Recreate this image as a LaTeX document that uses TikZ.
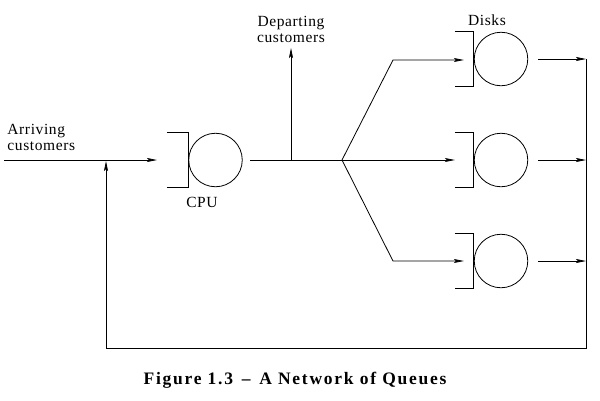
\documentclass[tikz,border=0pt]{standalone}
\usepackage{fontspec}
\setmainfont{Liberation Serif}
\newfontfamily\lblfont[LetterSpace=4]{Liberation Serif}
\newfontfamily\capfont[LetterSpace=10]{Liberation Serif}
\usetikzlibrary{arrows.meta}
\begin{document}
\begin{tikzpicture}[x=1pt,y=-1pt,
  line width=0.8pt,
  queue/.style={circle,draw,inner sep=0pt,minimum size=53.5pt},
  lbl/.style={font=\lblfont\fontsize{15.5}{16}\selectfont,align=center,inner sep=0pt},
  arr/.style={-{Stealth[length=10pt,width=4pt,inset=2pt]}},
  line join=miter]
\useasboundingbox (0,0) rectangle (600,400);
% queues
\node[queue] (cpu) at (215.5,160) {};
\node[queue] (d1) at (501,59) {};
\node[queue] (d2) at (501,160) {};
\node[queue] (d3) at (501,261) {};
% brackets
\draw ([xshift=-21pt]cpu.west |- cpu.north) -- (cpu.west |- cpu.north) -- (cpu.west |- cpu.south) -- ([xshift=-21pt]cpu.west |- cpu.south);
\foreach \d in {d1,d2,d3}{
  \draw ([xshift=-19pt]\d.west |- \d.north) -- (\d.west |- \d.north) -- (\d.west |- \d.south) -- ([xshift=-19pt]\d.west |- \d.south);
}
% coordinates
\coordinate (start) at (4,160);
\coordinate (cpuin) at (157,160);
\coordinate (cpuout) at (250,160);
\coordinate (dep) at (291,160);
\coordinate (deptip) at (291,48);
\coordinate (junc) at (342,160);
\coordinate (b1) at (393,60);
\coordinate (b3) at (393,261);
\coordinate (bus1) at (586,59);
\coordinate (bus2) at (586,160);
\coordinate (bus3) at (586,261);
\coordinate (busbot) at (586,348);
\coordinate (fbbot) at (106,348);
\coordinate (fbtip) at (106,161);
% arrival
\draw[arr] (start) -- (cpuin);
% cpu out
\draw (cpuout) -- (junc);
\draw[arr] (dep) -- (deptip);
% branches
\draw[arr] (junc) -- (b1) -- ([xshift=-10pt]d1.west |- b1);
\draw[arr] (junc) -- ([xshift=-19pt]d2.west);
\draw[arr] (junc) -- (b3) -- ([xshift=-10pt]d3.west |- b3);
% disk outputs
\draw[arr] ([xshift=10pt]d1.east) -- (bus1);
\draw[arr] ([xshift=10pt]d2.east) -- (bus2);
\draw[arr] ([xshift=10pt]d3.east) -- (bus3);
% feedback
\draw[arr] (bus1) -- (busbot) -- (fbbot) -- (fbtip);
% labels
\node[lbl,anchor=west,align=left] (arrl) at (7,137) {Arriving\\customers};
\node[lbl] (depl) at (291,29) {Departing\\customers};
\node[lbl] (cpul) at (202,202) {CPU};
\node[lbl] (diskl) at (487,20) {Disks};
\node[font=\capfont\bfseries\fontsize{17.5}{20}\selectfont,inner sep=0pt] (cap) at (295,380) {Figure 1.3\enspace\textendash\enspace A Network of Queues};
\end{tikzpicture}
\end{document}
